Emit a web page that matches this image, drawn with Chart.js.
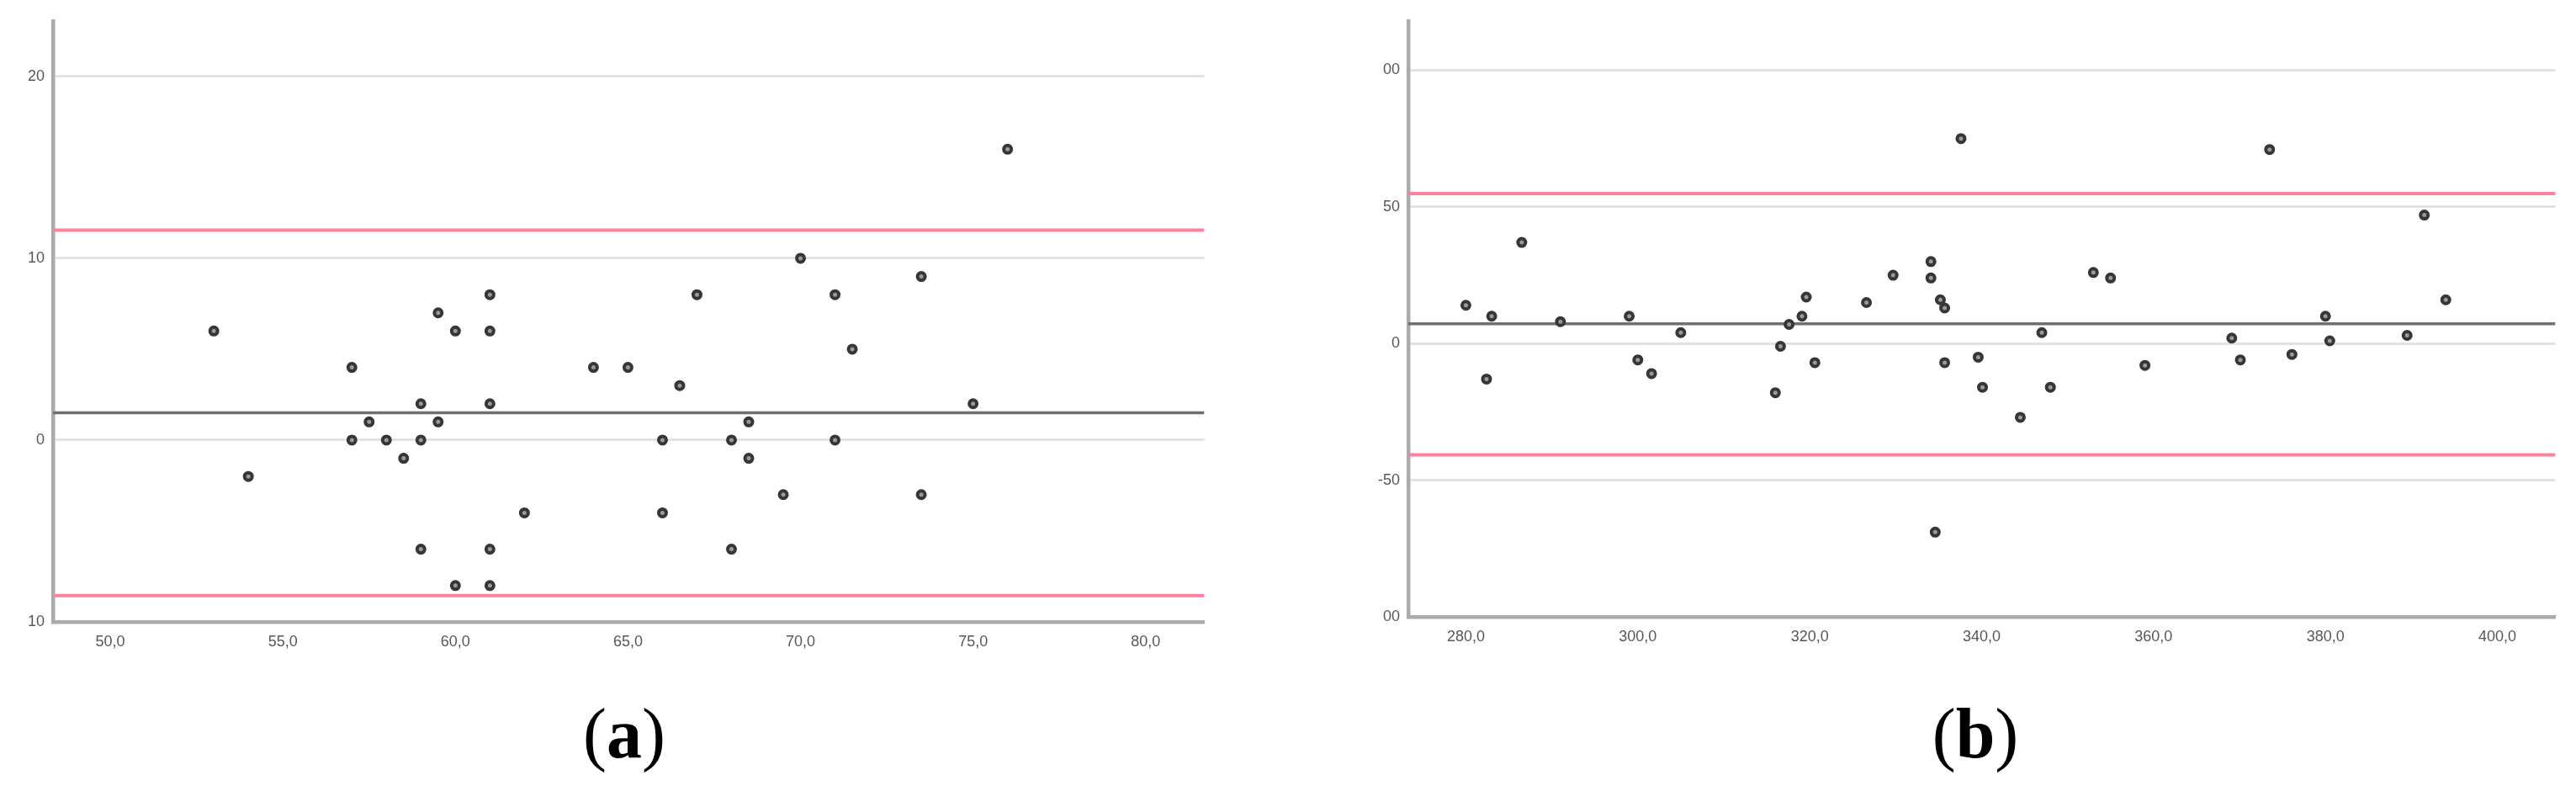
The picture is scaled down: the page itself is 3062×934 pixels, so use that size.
<!DOCTYPE html>
<html>
<head>
<meta charset="utf-8">
<script src="https://cdn.jsdelivr.net/npm/chart.js@4.4.1/dist/chart.umd.min.js"></script>
<style>
  body { margin: 0; background: #fff; width: 3062px; height: 934px; overflow: hidden; position: relative; }
  canvas { position: absolute; top: 0; }
  #chartA { left: 0; }
  #chartB { left: 1600px; }
  .caption { position: absolute; top: 830px; width: 200px; text-align: center; font-family: "Liberation Serif", "Times New Roman", serif; font-size: 84px; line-height: 1; color: #000; }
</style>
</head>
<body>
<canvas id="chartA" width="1440" height="800"></canvas>
<canvas id="chartB" width="1446" height="800"></canvas>
<div class="caption" style="left:642px">(<b>a</b>)</div>
<div class="caption" style="left:2248px">(<b>b</b>)</div>
<script>
// panel (a)
const xA = [53, 54, 57, 57, 57.5, 58, 58.5, 59, 59, 59, 59.5, 59.5, 60, 60, 61, 61, 61, 61, 61, 62, 64, 65, 66, 66, 66.5, 67, 68, 68, 68.5, 68.5, 69.5, 70, 71, 71, 71.5, 73.5, 73.5, 75, 76];
const yA = [6, -2, 4, 0, 1, 0, -1, 2, 0, -6, 7, 1, 6, -8, 8, 6, 2, -6, -8, -4, 4, 4, 0, -4, 3, 8, 0, -6, 1, -1, -3, 10, 8, 0, 5, 9, -3, 2, 16];
const meanA = 1.5;
const upperA = 11.55;
const lowerA = -8.55;
const xTicksA = [50, 55, 60, 65, 70, 75, 80];
const yTicksA = [20, 10, 0, -10];
const yLabelsA = ["20", "10", "0", "10"];

// panel (b)
const xB = [280, 282.4, 283, 286.5, 291, 299, 300, 301.6, 305, 316, 316.6, 317.6, 319.1, 319.6, 320.6, 326.6, 329.7, 334.1, 334.1, 334.6, 335.2, 335.7, 335.7, 337.6, 339.6, 340.1, 344.5, 347, 348, 353, 355, 359, 369.1, 370.1, 373.5, 376.1, 380, 380.5, 389.5, 391.5, 394];
const yB = [14, -13, 10, 37, 8, 10, -6, -11, 4, -18, -1, 7, 10, 17, -7, 15, 25, 30, 24, -69, 16, 13, -7, 75, -5, -16, -27, 4, -16, 26, 24, -8, 2, -6, 71, -4, 10, 1, 3, 47, 16];
const meanB = 7.2;
const upperB = 54.9;
const lowerB = -40.7;
const xTicksB = [280, 300, 320, 340, 360, 380, 400];
const yTicksB = [100, 50, 0, -50, -100];
const yLabelsB = ["00", "50", "0", "-50", "00"];

const PINK = "#fb819e";
const MEAN = "#6f6f6f";
const AXIS = "#ababab";
const GRID = "#e3e3e3";
const LABEL = "#575757";

function hline(y, x0, x1, color, width) {
  return {
    data: [{ x: x0, y: y }, { x: x1, y: y }],
    showLine: true,
    borderColor: color,
    borderWidth: width,
    pointRadius: 0,
    order: 2,
  };
}

function makePlot(id, p) {
  const points = p.xs.map((x, i) => ({ x: x, y: p.ys[i] }));
  new Chart(document.getElementById(id), {
    type: "scatter",
    data: {
      datasets: [
        {
          data: points,
          pointRadius: 4.5,
          pointBorderWidth: 4,
          pointBorderColor: "#363636",
          pointBackgroundColor: "#9a9a9a",
          order: 1,
        },
        hline(p.mean, p.xMin, p.xMax, MEAN, 3.5),
        hline(p.upper, p.xMin, p.xMax, PINK, 4),
        hline(p.lower, p.xMin, p.xMax, PINK, 4),
      ],
    },
    options: {
      responsive: false,
      animation: false,
      devicePixelRatio: 1,
      layout: { padding: { top: 25, right: 8, left: 0, bottom: 0 } },
      plugins: { legend: { display: false }, tooltip: { enabled: false } },
      scales: {
        x: {
          type: "linear",
          min: p.xMin,
          max: p.xMax,
          afterBuildTicks: (s) => { s.ticks = p.xTicks.map((v) => ({ value: v })); },
          afterFit: (s) => { s.height = p.xAxisHeight; },
          grid: { display: false, drawTicks: false },
          border: { display: true, color: AXIS, width: 4.5 },
          ticks: {
            padding: 13,
            color: LABEL,
            font: { family: "Liberation Sans, Arial, sans-serif", size: 18 },
            callback: (v) => v.toFixed(1).replace(".", ","),
          },
        },
        y: {
          type: "linear",
          min: p.yMin,
          max: p.yMax,
          afterBuildTicks: (s) => { s.ticks = p.yTicks.map((v) => ({ value: v })); },
          afterFit: (s) => { s.width = p.yAxisWidth; },
          grid: { color: GRID, lineWidth: 3, drawTicks: false },
          border: { display: true, color: AXIS, width: 4.5 },
          ticks: {
            padding: 10,
            color: LABEL,
            font: { family: "Liberation Sans, Arial, sans-serif", size: 18 },
            callback: (v) => p.yLabels[p.yTicks.indexOf(v)],
          },
        },
      },
    },
  });
}

makePlot("chartA", {
  xs: xA, ys: yA, mean: meanA, upper: upperA, lower: lowerA,
  xMin: 48.34, xMax: 81.7, yMin: -10, yMax: 23.05,
  xTicks: xTicksA, yTicks: yTicksA, yLabels: yLabelsA,
  yAxisWidth: 63, xAxisHeight: 61,
});

makePlot("chartB", {
  xs: xB, ys: yB, mean: meanB, upper: upperB, lower: lowerB,
  xMin: 273.3, xMax: 406.75, yMin: -100, yMax: 118,
  xTicks: xTicksB, yTicks: yTicksB, yLabels: yLabelsB,
  yAxisWidth: 74, xAxisHeight: 67,
});
</script>
</body>
</html>
